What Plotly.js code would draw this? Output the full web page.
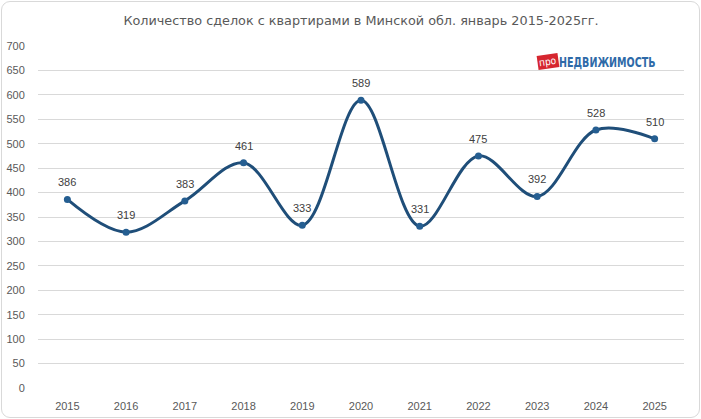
<!DOCTYPE html>
<html><head><meta charset="utf-8">
<script src="https://cdn.plot.ly/plotly-3.0.1.min.js"></script>
<style>
html,body{margin:0;padding:0;background:#fff;}
#wrap{position:relative;width:701px;height:419px;}
#plot{width:701px;height:419px;}
#frame{position:absolute;left:1px;top:1px;width:697px;height:415px;border:1px solid #d9d9d9;border-radius:9px;pointer-events:none;}
</style></head>
<body>
<div id="wrap"><div id="plot"></div><div id="frame"></div></div>
<script>
const years = [2015,2016,2017,2018,2019,2020,2021,2022,2023,2024,2025];
const deals = [386,319,383,461,333,589,331,475,392,528,510];
const yTicks = [0,50,100,150,200,250,300,350,400,450,500,550,600,650,700];
const titleText = 'Количество сделок с квартирами в Минской обл. январь 2015-2025гг.';
const logoMain = 'НЕДВИЖИМОСТЬ';

const trace = {
  x: years, y: deals, type: 'scatter', mode: 'lines+markers',
  line: {color: '#1f4e79', width: 3, shape: 'spline', smoothing: 1},
  marker: {color: '#255e91', size: 7},
  hoverinfo: 'none'
};

const anns = years.map((yr, i) => ({
  x: yr, y: deals[i], xref: 'x', yref: 'y', text: String(deals[i]), showarrow: false,
  yshift: 17, font: {family: 'Liberation Sans, Arial, sans-serif', size: 11, color: '#404040'}
}));
anns.push({
  xref: 'paper', yref: 'paper', x: 0.771, y: 0.955, xanchor: 'left', yanchor: 'middle',
  text: 'про', showarrow: false, bgcolor: '#d6262f', borderpad: 1, textangle: -8,
  font: {family: 'DejaVu Sans Condensed, sans-serif', size: 10, color: '#ffffff'}
});
anns.push({
  xref: 'paper', yref: 'paper', x: 0.803, y: 0.952, xanchor: 'left', yanchor: 'middle',
  text: '<b>' + logoMain + '</b>', showarrow: false,
  font: {family: 'DejaVu Sans Condensed, sans-serif', size: 14, color: '#2e6aa8'}
});

const layout = {
  width: 701, height: 419,
  margin: {l: 37.6, r: 16.6, t: 46, b: 31},
  paper_bgcolor: '#ffffff', plot_bgcolor: '#ffffff',
  showlegend: false,
  title: {text: titleText, x: 0.5, xref: 'paper', y: 0.952, yanchor: 'middle',
    font: {family: 'DejaVu Sans, sans-serif', size: 12.8, color: '#595959'}},
  xaxis: {range: [2014.5, 2025.5], tickvals: years, ticktext: years.map(String),
    showgrid: false, zeroline: false, showline: false,
    ticks: 'outside', ticklen: 8, tickcolor: 'rgba(0,0,0,0)',
    tickfont: {family: 'Liberation Sans, Arial, sans-serif', size: 11, color: '#595959'}},
  yaxis: {range: [0, 700], tickvals: yTicks, ticktext: yTicks.map(String),
    showgrid: true, gridcolor: '#d9d9d9', gridwidth: 1, zeroline: false, showline: false,
    ticks: 'outside', ticklen: 10, tickcolor: 'rgba(0,0,0,0)',
    tickfont: {family: 'Liberation Sans, Arial, sans-serif', size: 11, color: '#595959'}},
  annotations: anns
};
Plotly.newPlot('plot', [trace], layout, {displayModeBar: false, staticPlot: true}).then(() => {
  document.querySelectorAll('#plot .annotation-text').forEach(el => {
    if (el.textContent === logoMain) {
      const bb = el.getBBox();
      el.setAttribute('transform', 'translate(' + bb.x + ',0) scale(0.76,1) translate(' + (-bb.x) + ',0)');
    }
  });
});
</script>
</body></html>
